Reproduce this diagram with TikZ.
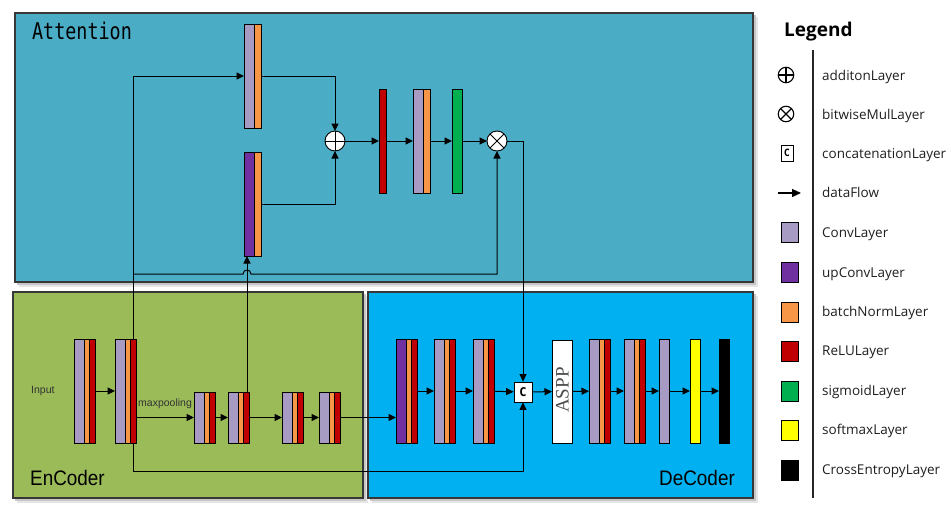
\documentclass[tikz,border=0pt]{standalone}
\usepackage{fontspec}
\setmainfont{Open Sans}
\newfontfamily\monof{DejaVu Sans Mono}
\newfontfamily\gothf{Liberation Sans}
\newfontfamily\serf{Liberation Serif}
\usetikzlibrary{arrows.meta,calc}

\definecolor{attbg}{RGB}{75,172,198}
\definecolor{encbg}{RGB}{155,187,89}
\definecolor{decbg}{RGB}{0,176,240}
\definecolor{lav}{RGB}{167,155,196}
\definecolor{bno}{RGB}{247,150,70}
\definecolor{rel}{RGB}{192,0,0}
\definecolor{upc}{RGB}{112,48,160}
\definecolor{sig}{RGB}{0,176,80}
\definecolor{smx}{RGB}{255,255,0}
\definecolor{panelline}{RGB}{55,55,55}
\definecolor{txtgray}{RGB}{50,50,50}

\tikzset{
  panel/.style={draw=panelline, line width=1.2pt},
  shad/.style={fill=black!22},
  shadb/.style={fill=black!10},
  part/.style={draw=black, line width=0.8pt},
  frm/.style={inner sep=0pt, outer sep=0pt, draw=none},
  sl/.style={part, inner sep=0pt, outer sep=0pt, anchor=north west},
  ln/.style={line width=1pt},
  arr/.style={line width=1pt, -{Triangle[length=7.5pt,width=7pt]}},
  opnode/.style={circle, draw=black, fill=white, line width=0.9pt, inner sep=0pt, outer sep=0pt, minimum size=20pt},
  lop/.style={circle, draw=black, fill=white, line width=1.1pt, inner sep=0pt, outer sep=0pt, minimum size=15.5pt},
  sq/.style={part, inner sep=0pt, outer sep=0pt, minimum width=17pt, minimum height=20pt},
  ltxt/.style={anchor=base west, inner sep=0pt, text=black!88, font=\fontsize{13.5}{14}\selectfont},
  small/.style={inner sep=0pt, text=txtgray, font=\gothf\fontsize{10.5}{11}\selectfont},
}

% conv/upconv + BN + ReLU
\newcommand{\layCBR}[5][lav]{%
  \node[frm, minimum width=21pt, minimum height=#5pt, anchor=north west] (#2) at (#3,#4) {};
  \filldraw[part, fill=#1] (#3,#4) rectangle ++(10,#5);
  \filldraw[part, fill=bno] (#3+10,#4) rectangle ++(5,#5);
  \filldraw[part, fill=rel] (#3+15,#4) rectangle ++(6,#5);
}
% conv/upconv + BN
\newcommand{\layCB}[5][lav]{%
  \node[frm, minimum width=17pt, minimum height=#5pt, anchor=north west] (#2) at (#3,#4) {};
  \filldraw[part, fill=#1] (#3,#4) rectangle ++(10,#5);
  \filldraw[part, fill=bno] (#3+10,#4) rectangle ++(7,#5);
}

\begin{document}
\begin{tikzpicture}[x=1pt,y=-1pt]
\useasboundingbox (0,0) rectangle (951,507);
\fill[white] (0,0) rectangle (951,507);

% ---------- panels ----------
\fill[shadb] (19,17) rectangle (758,287);
\fill[shad] (17,15) rectangle (756,285);
\fill[shadb] (17,296) rectangle (368,503);
\fill[shad] (15,294) rectangle (366,501);
\fill[shadb] (372,296) rectangle (758,503);
\fill[shad] (370,294) rectangle (756,501);
\filldraw[panel, fill=attbg] (15,13) rectangle (753,282);
\filldraw[panel, fill=encbg] (13,292) rectangle (363,498);
\filldraw[panel, fill=decbg] (368,292) rectangle (753,498);

\node[anchor=base west, inner sep=0pt, xscale=0.8, font=\monof\fontsize{23}{23}\selectfont] (attlbl) at (32,39) {Attention};
\node[anchor=base west, inner sep=0pt, xscale=0.9, font=\gothf\fontsize{21}{21}\selectfont] (enclbl) at (30,485) {EnCoder};
\node[anchor=base east, inner sep=0pt, xscale=0.9, font=\gothf\fontsize{21}{21}\selectfont] (declbl) at (735,485) {DeCoder};

% ---------- attention ----------
\layCB{a1}{244}{24}{104}
\layCB[upc]{a2}{244}{152}{104}
\node[opnode] (plus) at (335,141) {};
\draw[line width=0.9pt] (plus.north) -- (plus.south) (plus.west) -- (plus.east);
\node[sl, fill=rel, minimum width=7pt, minimum height=104pt] (a3) at (379,89) {};
\layCB{a4}{413}{89}{104}
\node[sl, fill=sig, minimum width=10pt, minimum height=104pt] (a5) at (452,89) {};
\node[opnode] (mul) at (497,141) {};
\draw[line width=0.9pt] (mul.north west) -- (mul.south east) (mul.north east) -- (mul.south west);

% ---------- encoder ----------
\layCBR{e1}{74}{339}{104}
\layCBR{e2}{115}{339}{104}
\layCBR{e3}{194}{392}{51}
\layCBR{e4}{228}{392}{51}
\layCBR{e5}{282}{392}{51}
\layCBR{e6}{319}{392}{51}
\node[small, anchor=west] (inlbl) at (31,391) {Input};
\node[small, anchor=base west] (mplbl) at (138,406) {maxpooling};

% ---------- decoder ----------
\layCBR[upc]{d1}{396}{339}{104}
\layCBR{d2}{434}{339}{104}
\layCBR{d3}{473}{339}{104}
\node[part, fill=white, inner sep=0pt, minimum width=18pt, minimum height=20pt, font=\monof\bfseries\fontsize{12}{12}\selectfont] (cc) at (523,392) {C};
\node[sl, fill=white, minimum width=20pt, minimum height=103pt] (aspp) at (552,340) {};
\node[inner sep=0pt, rotate=90, text=black!70, font=\serf\fontsize{19}{19}\selectfont] (aspplbl) at ($(aspp.center)+(0.5,-1.5)$) {ASPP};
\layCBR{d4}{589}{339}{104}
\layCBR{d5}{624}{339}{104}
\node[sl, fill=lav, minimum width=10pt, minimum height=104pt] (d6) at (659,339) {};
\node[sl, fill=smx, minimum width=10pt, minimum height=104pt] (yel) at (690,339) {};
\node[sl, fill=black, minimum width=10pt, minimum height=104pt] (blk) at (719,339) {};

% ---------- connectors ----------
\coordinate (e2t) at (133,339);
\coordinate (e2b) at (133,443);
\coordinate (j1) at (133,274);
\coordinate (j2) at (133,471);
\coordinate (hl) at (243,274);
\coordinate (hr) at (251,274);
\coordinate (e4t) at (247,392);

\draw[arr] (e2t) |- (a1.west);
\draw[arr] (j1) -- (hl) .. controls (243,268.7) and (251,268.7) .. (hr) -| (mul.south);
\draw[arr] (e4t) -- (e4t |- a2.south);
\draw[arr] (a1.east) -| (plus.north);
\draw[arr] (a2.east) -| (plus.south);
\draw[arr] (plus) -- (a3);
\draw[arr] (a3) -- (a4);
\draw[arr] (a4) -- (a5);
\draw[arr] (a5) -- (mul);
\draw[arr] (mul.east) -| (cc.north);

\draw[arr] (e1) -- (e2);
\draw[arr] (e2.east |- e3.west) -- (e3.west);
\draw[arr] (e3) -- (e4);
\draw[arr] (e4) -- (e5);
\draw[arr] (e5) -- (e6);
\draw[arr] (e6.east) -- (e6.east -| d1.west);
\draw[arr] (e2b) -- (j2) -| (cc.south);

\draw[arr] (d1) -- (d2);
\draw[arr] (d2) -- (d3);
\draw[arr] (d3) -- (cc);
\draw[arr] (cc) -- (aspp);
\draw[arr] (aspp) -- (d4);
\draw[arr] (d4) -- (d5);
\draw[arr] (d5) -- (d6);
\draw[arr] (d6) -- (yel);
\draw[arr] (yel) -- (blk);

% ---------- legend ----------
\node[anchor=base west, inner sep=0pt, font=\bfseries\fontsize{19}{19}\selectfont] (lgtitle) at (784,36) {Legend};
\coordinate (lvt) at (813,50);
\coordinate (lvb) at (813,498);
\draw[line width=1.3pt, black!85] (lvt) -- (lvb);

\node[lop] (lplus) at (786,75) {};
\draw[line width=1.1pt] (lplus.north) -- (lplus.south) (lplus.west) -- (lplus.east);
\node[lop] (ltimes) at (786,114) {};
\draw[line width=1.1pt] (ltimes.north west) -- (ltimes.south east) (ltimes.north east) -- (ltimes.south west);
\node[part, fill=white, inner sep=0pt, minimum width=12pt, minimum height=16pt, font=\monof\bfseries\fontsize{10}{10}\selectfont] (lcc) at (787,153) {C};
\coordinate (la1) at (778,193);
\coordinate (la2) at (801,193);
\draw[line width=1.3pt, -{Triangle[length=9pt,width=8pt]}] (la1) -- (la2);
\node[sq, fill=lav] (lconv) at (790,232) {};
\node[sq, fill=upc] (lupc) at (790,272) {};
\node[sq, fill=bno] (lbn) at (790,312) {};
\node[sq, fill=rel] (lrel) at (790,351) {};
\node[sq, fill=sig] (lsig) at (790,391) {};
\node[sq, fill=smx] (lsmx) at (790,430) {};
\node[sq, fill=black] (lce) at (790,470) {};

\node[ltxt] (t1) at (822,80.5) {additonLayer};
\node[ltxt] (t2) at (822,119) {bitwiseMulLayer};
\node[ltxt] (t3) at (822,158.5) {concatenationLayer};
\node[ltxt] (t4) at (822,197.5) {dataFlow};
\node[ltxt] (t5) at (822,237) {ConvLayer};
\node[ltxt] (t6) at (822,277.5) {upConvLayer};
\node[ltxt] (t7) at (822,316.5) {batchNormLayer};
\node[ltxt] (t8) at (822,355.5) {ReLULayer};
\node[ltxt] (t9) at (822,395) {sigmoidLayer};
\node[ltxt] (t10) at (822,434.5) {softmaxLayer};
\node[ltxt] (t11) at (822,474.5) {CrossEntropyLayer};
\end{tikzpicture}
\end{document}
